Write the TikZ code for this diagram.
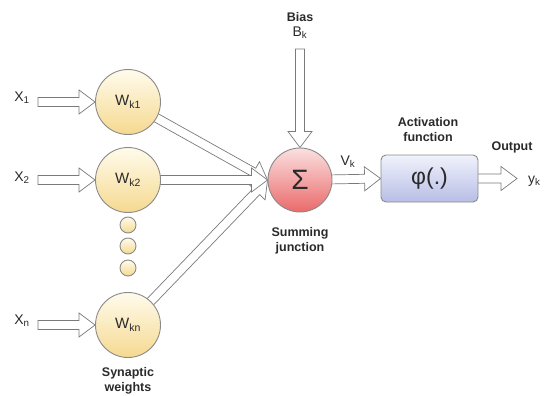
\documentclass[tikz,border=0pt]{standalone}
\usepackage{fontspec}
\setmainfont{Liberation Sans}
\usetikzlibrary{calc,backgrounds}
\definecolor{wtop}{HTML}{FFFBEC}
\definecolor{wbot}{HTML}{F5D990}
\definecolor{stop}{HTML}{FBE0E0}
\definecolor{sbot}{HTML}{EA6A6A}
\definecolor{btop}{HTML}{F0F2FB}
\definecolor{bbot}{HTML}{B8BEE6}
\definecolor{edge}{HTML}{8A8A8A}
\definecolor{arr}{HTML}{7A7A7A}
\definecolor{txt}{HTML}{2A2A2A}
\newcommand{\harrow}[2]{%
  \draw[harrowline] let \p1=($(#2)-(#1)$), \n1={veclen(\x1,\y1)}, \n2={atan2(\y1,\x1)} in
   [shift={(#1)}, rotate=\n2]
   (0pt,4.5pt) -- (\n1-16pt,4.5pt) -- (\n1-16pt,12pt) -- (\n1,0pt) -- (\n1-16pt,-12pt) -- (\n1-16pt,-4.5pt) -- (0pt,-4.5pt) -- cycle;}
\begin{document}
\begin{tikzpicture}[x=1pt,y=-1pt,
  lbl/.style={font=\fontsize{14}{16}\selectfont, text=txt, inner sep=0pt},
  boldlbl/.style={font=\bfseries\fontsize{12.5}{15}\selectfont, text=txt, align=center, inner sep=0pt},
  weight/.style={circle, draw=edge, line width=0.9pt, minimum size=65pt, inner sep=0pt,
    top color=wtop, bottom color=wbot, font=\fontsize{15}{17}\selectfont, text=txt},
  smalldot/.style={circle, draw=edge, line width=0.9pt, minimum size=16pt, inner sep=0pt,
    top color=wtop, bottom color=wbot},
  sumnode/.style={circle, draw=edge, line width=0.9pt, minimum size=64pt, inner sep=0pt,
    top color=stop, bottom color=sbot, font=\fontsize{28}{30}\selectfont, text=txt},
  actbox/.style={rectangle, rounded corners=5pt, draw=edge, line width=0.9pt,
    minimum width=97pt, minimum height=47pt, inner sep=0pt,
    top color=btop, bottom color=bbot, font=\fontsize{23}{25}\selectfont, text=txt},
  harrowline/.style={draw=arr, fill=white, line width=0.7pt, line join=miter}
]
\useasboundingbox (0,0) rectangle (549,396);

% weight nodes
\node[weight] (w1) at (128,102) {W\textsubscript{k1}};
\node[weight] (w2) at (128,180) {W\textsubscript{k2}};
\node[weight] (wn) at (128,325) {W\textsubscript{kn}};
\node[smalldot] (d1) at (128,225) {};
\node[smalldot] (d2) at (128,246) {};
\node[smalldot] (d3) at (128,268) {};

% inputs
\node[lbl] (x1) at (22,98) {X\textsubscript{1}};
\node[lbl] (x2) at (22,178) {X\textsubscript{2}};
\node[lbl] (xn) at (22,321) {X\textsubscript{n}};
\coordinate (s1) at (38,102);
\coordinate (s2) at (38,180);
\coordinate (sn) at (38,325);

% summing junction
\node[sumnode] (sum) at (300,180) {Σ};
\node[boldlbl] (bias) at (300,17) {Bias};
\node[lbl] (bk) at (300,33) {B\textsubscript{k}};
\coordinate (bstart) at (300,49);
\node[lbl] (vk) at (348,162) {V\textsubscript{k}};
\node[boldlbl] (sj) at (300,241) {Summing\\junction};

% activation
\node[actbox] (act) at (429.5,178.5) {φ(.)};
\node[boldlbl] (af) at (428,130) {Activation\\function};
\node[boldlbl] (out) at (512,147) {Output};
\coordinate (oend) at (517,178.5);
\node[lbl, anchor=west] (yk) at (528,181) {y\textsubscript{k}};

\node[boldlbl] (sw) at (128,381) {Synaptic\\weights};

\begin{scope}[on background layer]
  \harrow{s1}{w1.west}
  \harrow{s2}{w2.west}
  \harrow{sn}{wn.west}
  \harrow{w1}{sum.west}
  \harrow{wn}{sum.west}
  \harrow{w2}{sum.west}
  \harrow{bstart}{sum.north}
  \harrow{sum}{act.west}
  \harrow{act}{oend}
\end{scope}
\end{tikzpicture}
\end{document}
